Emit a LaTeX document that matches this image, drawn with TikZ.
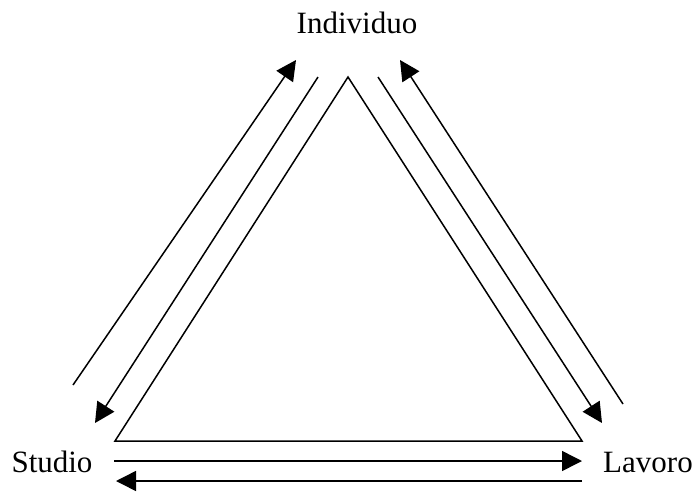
\documentclass[tikz,border=0pt]{standalone}
\usepackage{fontspec}
\setmainfont{Liberation Serif}
\usetikzlibrary{arrows.meta}

\begin{document}
\begin{tikzpicture}[x=0.5pt,y=-0.5pt,line width=0.75pt,
  lbl/.style={font=\fontsize{15.5}{18}\selectfont,anchor=base,inner sep=0pt},
  freccia/.style={-{Triangle[length=10pt,width=10pt]}}]
\useasboundingbox (0,0) rectangle (696,493);
% vertici del triangolo
\coordinate (top) at (348,77);
\coordinate (sx) at (115,441);
\coordinate (dx) at (582,441);
\draw (top) -- (sx) -- (dx) -- cycle;
% etichette
\node[lbl] (ind) at (357,33) {Individuo};
\node[lbl] (stu) at (52,472) {Studio};
\node[lbl] (lav) at (648,472) {Lavoro};
% estremi delle frecce
\coordinate (a1) at (73,385);  \coordinate (b1) at (296,60);
\coordinate (a2) at (318,77);  \coordinate (b2) at (95,423);
\coordinate (a3) at (378,77);  \coordinate (b3) at (602,423);
\coordinate (a4) at (623,404); \coordinate (b4) at (400,60);
\coordinate (a5) at (114,461); \coordinate (b5) at (582,461);
\coordinate (a6) at (582,481); \coordinate (b6) at (116,481);
\foreach \i in {1,...,6}
  \draw[freccia] (a\i) -- (b\i);
\end{tikzpicture}
\end{document}
